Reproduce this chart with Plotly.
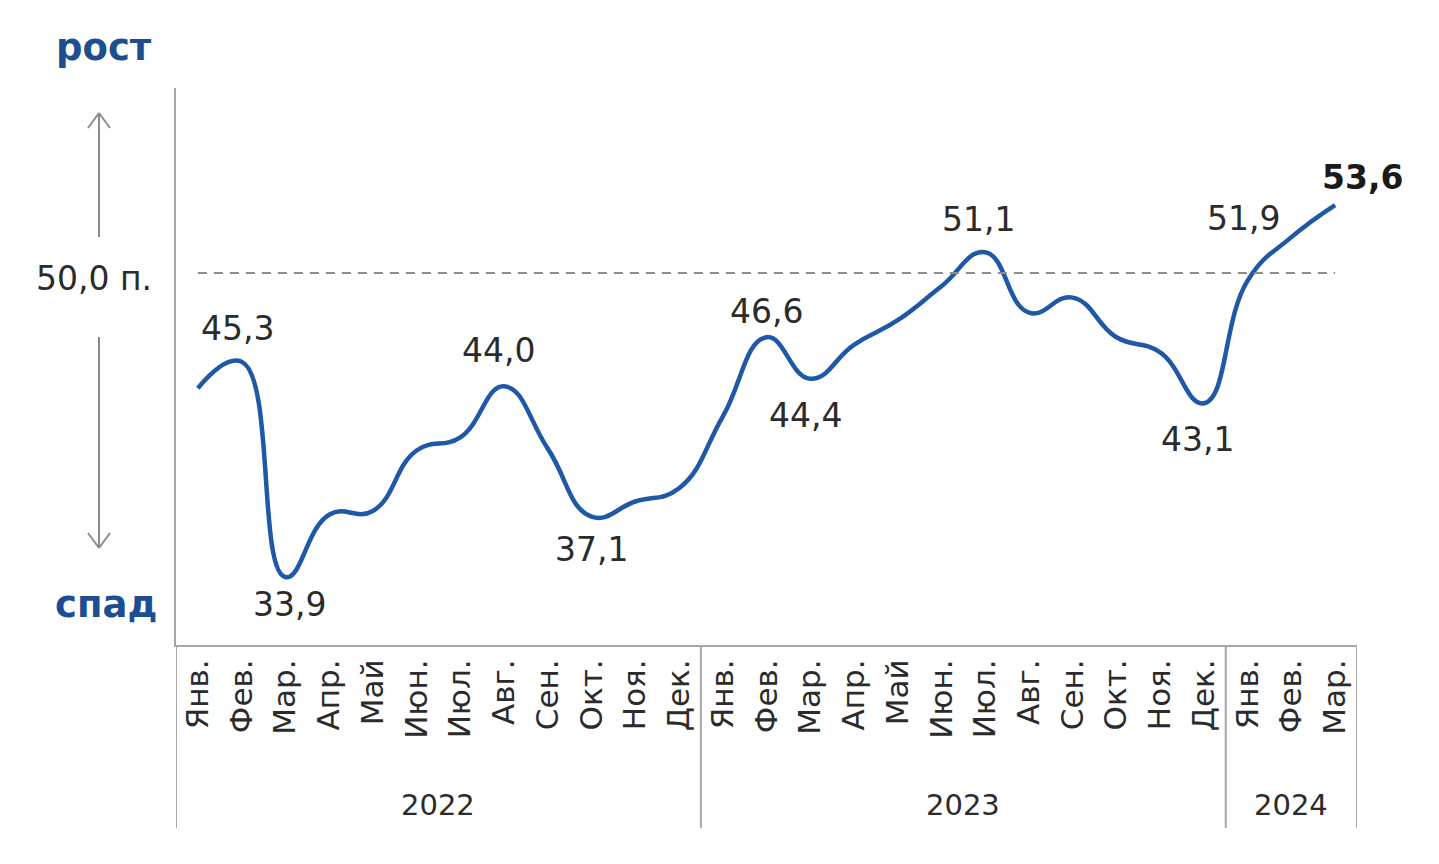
import plotly.graph_objects as go

years = ["2022", "2023", "2024"]
year_counts = [12, 12, 3]
months = ["Янв.", "Фев.", "Мар.", "Апр.", "Май", "Июн.", "Июл.", "Авг.", "Сен.", "Окт.", "Ноя.", "Дек.",
          "Янв.", "Фев.", "Мар.", "Апр.", "Май", "Июн.", "Июл.", "Авг.", "Сен.", "Окт.", "Ноя.", "Дек.",
          "Янв.", "Фев.", "Мар."]
values = [43.9, 45.3, 33.9, 37.2, 37.4, 40.6, 41.3, 44.0, 40.7, 37.1, 37.9, 38.6,
          42.4, 46.6, 44.4, 46.2, 47.5, 49.3, 51.1, 47.9, 48.7, 46.6, 45.8, 43.1,
          49.6, 51.9, 53.6]
threshold = 50.0

# labelled points: index, text, x shift (px), y shift (px), bold
labels = [(1, "45,3", -4, 33, False), (2, "33,9", 4, -27, False), (7, "44,0", -6, 36, False),
          (9, "37,1", 0, -33, False), (13, "46,6", 0, 26, False), (14, "44,4", -5, -37, False),
          (18, "51,1", -7, 33, False), (23, "43,1", -6, -36, False), (25, "51,9", -48, 19, False),
          (26, "53,6", 27, 28, True)]

# unique category keys (year + month) so the category axis keeps order
year_of = []
for y, n in zip(years, year_counts):
    year_of += [y] * n
cats = [f"{m} {y}" for m, y in zip(months, year_of)]

OFF = 8  # page body margin
W, H = 1439 - OFF, 864 - OFF
L, T = 176 - OFF, 88 - OFF
R = W - (1357 - OFF)
B = H - (645 - OFF)
PW, PH = W - L - R, H - T - B


def px(xp):
    return (xp - OFF - L) / PW


def py(yp):
    return (H - B - (yp - OFF)) / PH


fig = go.Figure()
fig.add_trace(go.Scatter(
    x=cats, y=values, mode="lines",
    line=dict(color="#1e58a6", width=4.5, shape="spline", smoothing=1.3), hoverinfo="skip"))
fig.add_trace(go.Scatter(
    x=[cats[0], cats[-1]], y=[threshold, threshold],
    mode="lines", line=dict(color="#8c8c8c", width=2, dash="9px,7px"), hoverinfo="skip"))

font_main = "DejaVu Sans"
for i, t, xs, ys, bold in labels:
    fig.add_annotation(x=cats[i], y=values[i], xref="x", yref="y", text=f"<b>{t}</b>" if bold else t,
                       showarrow=False, xshift=xs, yshift=ys, xanchor="center", yanchor="middle",
                       font=dict(family=font_main, size=33, color="#1a1a1a" if bold else "#2b2b2b"))

# year labels and dividers under the axis
shapes = []
start = 0
bottom = py(828)
for y, n in zip(years, year_counts):
    fig.add_annotation(x=(start + start + n - 1) / 2, y=py(805), xref="x", yref="paper", text=y,
                       showarrow=False, xanchor="center", yanchor="middle",
                       font=dict(family=font_main, size=29, color="#2b2b2b"))
    start += n
for b in [-0.5, 11.5, 23.5, 26.5]:
    shapes.append(dict(type="line", xref="x", yref="paper", x0=b, x1=b, y0=0, y1=bottom,
                       line=dict(color="#a6a6a6", width=2)))

# left side decorations
side = [("<b>рост</b>", 104, 48, "#1d4e8f", 37), ("<b>спад</b>", 106, 604, "#1d4e8f", 37),
        ("50,0 п.", 94, 278, "#2b2b2b", 33)]
for txt, x, y, c, s in side:
    fig.add_annotation(x=px(x), y=py(y), xref="paper", yref="paper", text=txt,
                       showarrow=False, xanchor="center", yanchor="middle",
                       font=dict(family=font_main, size=s, color=c))

arrow = dict(color="#8c8c8c", width=2)
for (x0, y0, x1, y1) in [(99, 237, 99, 113), (99, 113, 88, 128), (99, 113, 110, 128),
                         (99, 337, 99, 548), (99, 548, 88, 533), (99, 548, 110, 533)]:
    shapes.append(dict(type="line", xref="paper", yref="paper",
                       x0=px(x0), y0=py(y0), x1=px(x1), y1=py(y1), line=arrow))

fig.update_layout(
    width=W, height=H, margin=dict(l=L, r=R, t=T, b=B),
    paper_bgcolor="white", plot_bgcolor="white", showlegend=False,
    shapes=shapes,
    xaxis=dict(type="category", categoryorder="array", categoryarray=cats,
               showline=True, linecolor="#a6a6a6", linewidth=2,
               showgrid=False, zeroline=False, ticks="", tickangle=-90,
               tickvals=cats, ticktext=months, range=[-0.5, 26.5],
               tickfont=dict(family=font_main, size=31, color="#2b2b2b")),
    yaxis=dict(range=[30.3, 59.8], showline=True, linecolor="#a6a6a6", linewidth=2,
               showgrid=False, zeroline=False, showticklabels=False, ticks=""),
)

fig.write_html("out.html")
